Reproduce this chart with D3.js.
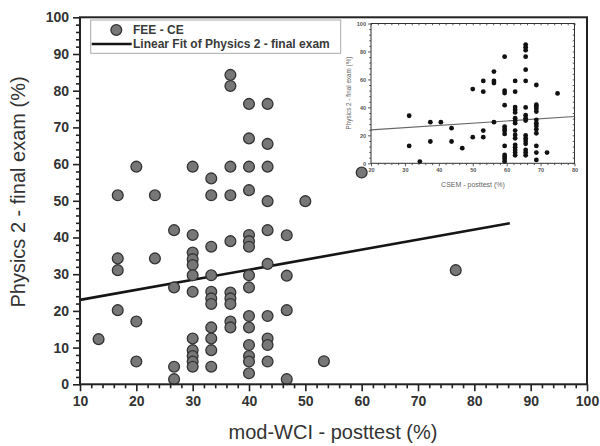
<!DOCTYPE html>
<html><head><meta charset="utf-8">
<script src="https://cdn.jsdelivr.net/npm/d3@7"></script>
<style>body{margin:0;background:#fff}svg{display:block}text{font-family:"Liberation Sans",Arial,sans-serif}</style>
</head><body>
<svg id="c" width="600" height="446"></svg>
<script>
// Main chart data: mod-WCI posttest columns and Physics 2 final exam values
const wciCols = [13.3,16.7,20,23.3,26.7,30,33.3,36.7,40,43.3,46.7,50,53.3,60,76.7];
const examByWci = [
  [12.3],
  [51.5,34.3,31.1,20.2],
  [59.3,17.1,6.2],
  [51.5,34.3],
  [42.0,26.4,4.8,1.4],
  [59.3,40.7,35.9,34.1,32.5,29.7,25.2,12.5,9.3,7.7,6.2,4.8],
  [56.1,51.5,37.5,29.7,25.2,23.4,21.9,15.5,12.5,9.3,4.8],
  [84.3,81.3,59.3,51.5,39.0,25.0,23.4,21.9,17.1,15.5],
  [76.4,67.0,59.3,52.9,40.7,39.0,37.5,29.7,26.4,18.6,15.5,10.7,7.7,6.2,3.0],
  [76.4,65.5,59.3,49.9,42.0,32.8,18.6,12.5,10.7,6.2],
  [40.6,29.6,20.2,1.4],
  [49.9],
  [6.3],
  [57.7],
  [31.1]
];
const fitX = [10, 86.3];
const fitY = [23.0, 43.9];
const xTicks = [10,20,30,40,50,60,70,80,90,100];
const yTicks = [0,10,20,30,40,50,60,70,80,90,100];
const legendLabels = ["FEE - CE", "Linear Fit of Physics 2 - final exam"];
const xTitle = "mod-WCI - posttest (%)";
const yTitle = "Physics 2 - final exam (%)";

// Inset data: CSEM posttest columns and Physics 2 final exam values
const csemCols = [31.25,34.4,37.5,40.6,43.75,46.9,50,53.1,56.25,59.4,62.5,65.6,68.75,71.9,75];
const examByCsem = [
  [34.0,12.4],
  [1.2],
  [29.4,15.6],
  [29.4],
  [25.1,15.6],
  [10.8],
  [53.1,18.7],
  [58.9,51.2,23.4,18.7],
  [65.6,58.9,57.4,29.4],
  [76.3,51.9,50.2,41.6,26.3,24.6,23.2,21.0,12.4,6.0,4.5,3.1,1.2],
  [58.9,51.2,40.2,38.3,36.4,32.3,30.4,28.7,23.4,20.3,17.9,13.2,11.5,9.6,7.7,5.7],
  [84.9,83.0,80.9,76.3,67.0,58.9,40.0,34.4,32.3,30.6,19.9,17.9,16.0,13.9,9.6,7.7,5.7],
  [56.0,41.9,40.7,39.0,37.0,31.1,28.7,26.8,24.4,21.5,12.4,7.7,2.4],
  [7.7],
  [50.0]
];
const insetFitX = [20, 80];
const insetFitY = [23.9, 33.5];
const insetXTicks = [20,30,40,50,60,70,80];
const insetYTicks = [0,20,40,60,80,100];
const insetXTitle = "CSEM - posttest (%)";
const insetYTitle = "Physics 2 - final exam (%)";

const svg = d3.select("#c");
const M = {l:80, r:587, t:17.3, b:384.3};
const x = d3.scaleLinear().domain([10,100]).range([M.l, M.r]);
const y = d3.scaleLinear().domain([0,100]).range([M.b, M.t]);

const pts = [];
wciCols.forEach((c,i)=>examByWci[i].forEach(v=>pts.push([c,v])));

// fit line
svg.append("line").attr("x1",x(fitX[0])).attr("y1",y(fitY[0])).attr("x2",x(fitX[1])).attr("y2",y(fitY[1]))
  .attr("stroke","#151515").attr("stroke-width",2.6);

// points
svg.append("g").selectAll("circle").data(pts).join("circle")
  .attr("cx",d=>x(d[0])).attr("cy",d=>y(d[1])).attr("r",5.4)
  .attr("fill","#777").attr("stroke","#333").attr("stroke-width",1.3);

// frame
svg.append("rect").attr("x",M.l).attr("y",M.t).attr("width",M.r-M.l).attr("height",M.b-M.t)
  .attr("fill","none").attr("stroke","#222").attr("stroke-width",2);

// axes
const xAx = svg.append("g").attr("transform",`translate(0,${M.b})`)
  .call(d3.axisBottom(x).tickValues(xTicks).tickSize(7).tickPadding(5).tickFormat(d3.format("d")));
const xMinor = svg.append("g").attr("transform",`translate(0,${M.b})`)
  .call(d3.axisBottom(x).tickValues(d3.range(10,100.1,2).filter(v=>v%10!==0)).tickSize(4).tickFormat(""));
const yAx = svg.append("g").attr("transform",`translate(${M.l},0)`)
  .call(d3.axisLeft(y).tickValues(yTicks).tickSize(7).tickPadding(4).tickFormat(d3.format("d")));
const yMinor = svg.append("g").attr("transform",`translate(${M.l},0)`)
  .call(d3.axisLeft(y).tickValues(d3.range(0,100.1,2).filter(v=>v%10!==0)).tickSize(4).tickFormat(""));
[xAx,xMinor,yAx,yMinor].forEach(g=>{
  g.select(".domain").remove();
  g.selectAll("line").attr("stroke","#222").attr("stroke-width",1.6);
  g.selectAll("text").attr("fill","#333").attr("font-size",14).attr("font-weight","bold");
});

// titles
svg.append("text").attr("x",333).attr("y",439).attr("text-anchor","middle")
  .attr("font-size",20).attr("fill","#333").text(xTitle);
svg.append("text").attr("transform","translate(25,192) rotate(-90)").attr("text-anchor","middle")
  .attr("font-size",20).attr("fill","#333").text(yTitle);

// legend
svg.append("rect").attr("x",90.7).attr("y",20).attr("width",250).attr("height",33.3)
  .attr("fill","#fff").attr("stroke","#aaa").attr("stroke-width",1);
svg.append("circle").attr("cx",116.3).attr("cy",30).attr("r",5.4)
  .attr("fill","#777").attr("stroke","#333").attr("stroke-width",1.3);
svg.append("line").attr("x1",91.7).attr("x2",131.7).attr("y1",44).attr("y2",44)
  .attr("stroke","#151515").attr("stroke-width",2.6);
svg.append("text").attr("x",133).attr("y",34.3).attr("font-size",12).attr("font-weight","bold")
  .attr("fill","#3a3a3a").text(legendLabels[0]);
svg.append("text").attr("x",133).attr("y",48.3).attr("font-size",12).attr("font-weight","bold")
  .attr("fill","#3a3a3a").text(legendLabels[1]);

// inset
const I = {l:371, r:574.5, t:23.5, b:163.3};
const ix = d3.scaleLinear().domain([20,80]).range([I.l, I.r]);
const iy = d3.scaleLinear().domain([0,100]).range([I.b, I.t]);
const ipts = [];
csemCols.forEach((c,i)=>examByCsem[i].forEach(v=>ipts.push([c,v])));

svg.append("line").attr("x1",ix(insetFitX[0])).attr("y1",iy(insetFitY[0])).attr("x2",ix(insetFitX[1])).attr("y2",iy(insetFitY[1]))
  .attr("stroke","#666").attr("stroke-width",1.1);
svg.append("g").selectAll("circle").data(ipts).join("circle")
  .attr("cx",d=>ix(d[0])).attr("cy",d=>iy(d[1])).attr("r",2.4).attr("fill","#111");
svg.append("rect").attr("x",I.l).attr("y",I.t).attr("width",I.r-I.l).attr("height",I.b-I.t)
  .attr("fill","none").attr("stroke","#333").attr("stroke-width",1);

const ixA = svg.append("g").attr("transform",`translate(0,${I.b})`)
  .call(d3.axisBottom(ix).tickValues(insetXTicks).tickSize(3).tickPadding(2).tickFormat(d3.format("d")));
const ixM = svg.append("g").attr("transform",`translate(0,${I.b})`)
  .call(d3.axisBottom(ix).tickValues(d3.range(20,80.1,2).filter(v=>v%10!==0)).tickSize(1.8).tickFormat(""));
const ixT = svg.append("g").attr("transform",`translate(0,${I.t})`)
  .call(d3.axisTop(ix).tickValues(d3.range(20,80.1,2)).tickSize(-1.8).tickFormat(""));
const iyA = svg.append("g").attr("transform",`translate(${I.l},0)`)
  .call(d3.axisLeft(iy).tickValues(insetYTicks).tickSize(3).tickPadding(2).tickFormat(d3.format("d")));
const iyM = svg.append("g").attr("transform",`translate(${I.l},0)`)
  .call(d3.axisLeft(iy).tickValues(d3.range(0,100.1,4).filter(v=>v%20!==0)).tickSize(1.8).tickFormat(""));
const iyR = svg.append("g").attr("transform",`translate(${I.r},0)`)
  .call(d3.axisRight(iy).tickValues(d3.range(0,100.1,4)).tickSize(-1.8).tickFormat(""));
[ixA,ixM,ixT,iyA,iyM,iyR].forEach(g=>{
  g.select(".domain").remove();
  g.selectAll("line").attr("stroke","#333").attr("stroke-width",0.8);
  g.selectAll("text").attr("fill","#555").attr("font-size",5.5).attr("font-weight","bold");
});
svg.append("text").attr("x",473).attr("y",186.5).attr("text-anchor","middle")
  .attr("font-size",7).attr("fill","#666").text(insetXTitle);
svg.append("text").attr("transform","translate(351,93) rotate(-90)").attr("text-anchor","middle")
  .attr("font-size",6.3).attr("fill","#666").text(insetYTitle);
</script>
</body></html>
